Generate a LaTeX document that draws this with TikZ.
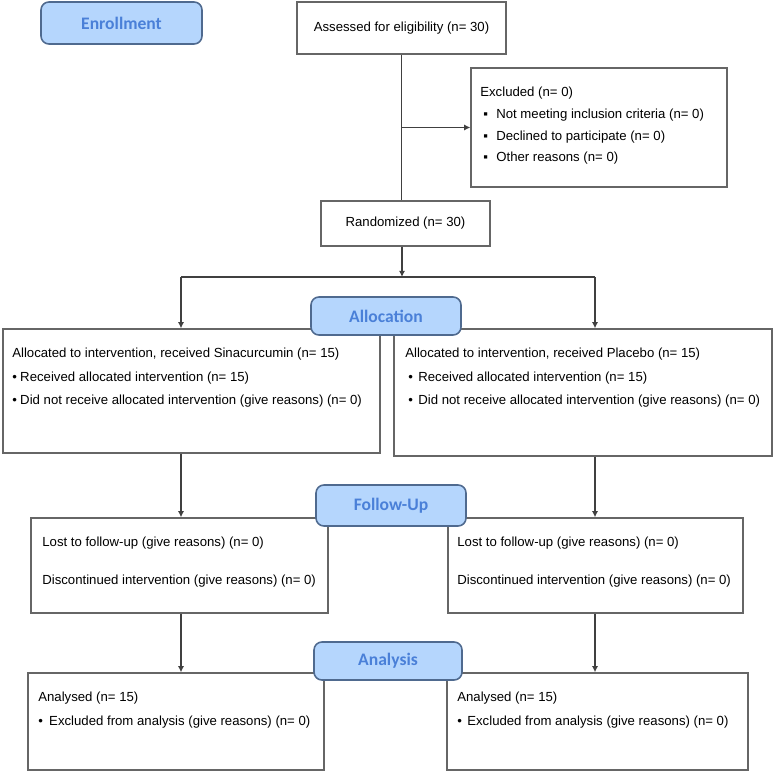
\documentclass[tikz,border=0pt]{standalone}
\usepackage{fontspec}
\setmainfont{Liberation Sans}
\newfontfamily\headfont{Carlito}
\usetikzlibrary{arrows.meta}
\usetikzlibrary{positioning}

\definecolor{headfill}{HTML}{B5D6FD}
\definecolor{headline}{HTML}{4F6A8F}
\definecolor{headtext}{HTML}{4A80D8}

\newcommand{\blt}[1][4.5pt]{\makebox[#1][l]{\textbullet}}
\newcommand{\sqb}[1][7.4pt]{\hspace*{1.7pt}\makebox[#1][l]{▪}}

\tikzset{
  flowbox/.style={draw=black!60,line width=0.8pt,rectangle,inner sep=0pt,
    font=\fontsize{7.5pt}{9pt}\selectfont},
  headbox/.style={draw=headline,fill=headfill,line width=0.9pt,rounded corners=4.5pt,
    inner sep=0pt,font=\headfont\bfseries\fontsize{10pt}{12pt}\selectfont,text=headtext},
  txt/.style={anchor=north west,align=left,inner sep=0pt,
    font=\fontsize{7.5pt}{13.3pt}\selectfont},
  arr/.style={draw=black!75,line width=0.8pt,-{Latex[length=3.5pt,width=3.5pt]}},
  lnk/.style={draw=black!75,line width=0.8pt}
}

\begin{document}
\begin{tikzpicture}[x=0.02cm,y=-0.02cm]
\useasboundingbox (0,0) rectangle (773,773);

% boxes
\node[flowbox,minimum width=4.18cm,minimum height=1.04cm] (assess) at (401.5,28) {Assessed for eligibility (n= 30)};
\node[flowbox,minimum width=5.12cm,minimum height=2.38cm] (excl) at (599,127.5) {};
\node[flowbox,minimum width=3.38cm,minimum height=0.90cm] (rand) at (405.5,223.5) {Randomized (n= 30)};
\node[flowbox,minimum width=7.54cm,minimum height=2.48cm] (allocL) at (191.5,391) {};
\node[flowbox,minimum width=7.56cm,minimum height=2.54cm] (allocR) at (583,392.5) {};
\node[flowbox,minimum width=5.94cm,minimum height=1.90cm] (followL) at (179.5,565.5) {};
\node[flowbox,minimum width=5.90cm,minimum height=1.90cm] (followR) at (595.5,565.5) {};
\node[flowbox,minimum width=5.92cm,minimum height=1.94cm] (anaL) at (176,721.5) {};
\node[flowbox,minimum width=6.02cm,minimum height=1.94cm] (anaR) at (597.5,721.5) {};

% box texts
\node[txt,font=\fontsize{7.5pt}{12.3pt}\selectfont] (exclText) at (480,87) {Excluded (n= 0)\\
\sqb Not meeting inclusion criteria (n= 0)\\
\sqb Declined to participate (n= 0)\\
\sqb Other reasons (n= 0)};
\node[txt] (allocLText) at (12,348) {Allocated to intervention, received Sinacurcumin (n= 15)\\
\blt Received allocated intervention (n= 15)\\
\blt Did not receive allocated intervention (give reasons) (n= 0)};
\node[txt] (allocRText) at (405,348) {Allocated to intervention, received Placebo (n= 15)\\
\hspace*{1.7pt}\blt[5.7pt]Received allocated intervention (n= 15)\\
\hspace*{1.7pt}\blt[5.7pt]Did not receive allocated intervention (give reasons) (n= 0)};
\node[txt,font=\fontsize{7.5pt}{21.5pt}\selectfont] (followLText) at (42,537) {Lost to follow-up (give reasons) (n= 0)\\
Discontinued intervention (give reasons) (n= 0)};
\node[txt,font=\fontsize{7.5pt}{21.5pt}\selectfont] (followRText) at (457,537) {Lost to follow-up (give reasons) (n= 0)\\
Discontinued intervention (give reasons) (n= 0)};
\node[txt,font=\fontsize{7.5pt}{13.6pt}\selectfont] (anaLText) at (38,692) {Analysed (n= 15)\\
\blt[6.2pt]Excluded from analysis (give reasons) (n= 0)};
\node[txt,font=\fontsize{7.5pt}{13.6pt}\selectfont] (anaRText) at (457,692) {Analysed (n= 15)\\
\blt[5.7pt]Excluded from analysis (give reasons) (n= 0)};

% connectors
\coordinate (lftTop) at (181,277);
\coordinate (split) at (402,277);
\coordinate (rgtTop) at (595,277);
\draw[lnk] (assess.south) -- (assess.south |- rand.north);
\draw[arr] (assess.south |- excl.west) -- (excl.west);
\draw[arr] (rand.south -| split) -- (split);
\draw[lnk] (lftTop) -- (rgtTop);
\draw[arr] (lftTop) -- (lftTop |- allocL.north);
\draw[arr] (rgtTop) -- (rgtTop |- allocR.north);
\draw[arr] (lftTop |- allocL.south) -- (lftTop |- followL.north);
\draw[arr] (rgtTop |- allocR.south) -- (rgtTop |- followR.north);
\draw[arr] (lftTop |- followL.south) -- (lftTop |- anaL.north);
\draw[arr] (rgtTop |- followR.south) -- (rgtTop |- anaR.north);

% stage headings
\node[headbox,minimum width=3.22cm,minimum height=0.84cm] (enroll) at (121.5,23) {Enrollment};
\node[headbox,minimum width=3.00cm,minimum height=0.76cm] (allocHead) at (386,316) {Allocation};
\node[headbox,minimum width=3.00cm,minimum height=0.82cm] (followHead) at (391,505.5) {Follow-Up};
\node[headbox,minimum width=2.96cm,minimum height=0.76cm] (anaHead) at (388,661) {Analysis};

\end{tikzpicture}
\end{document}
